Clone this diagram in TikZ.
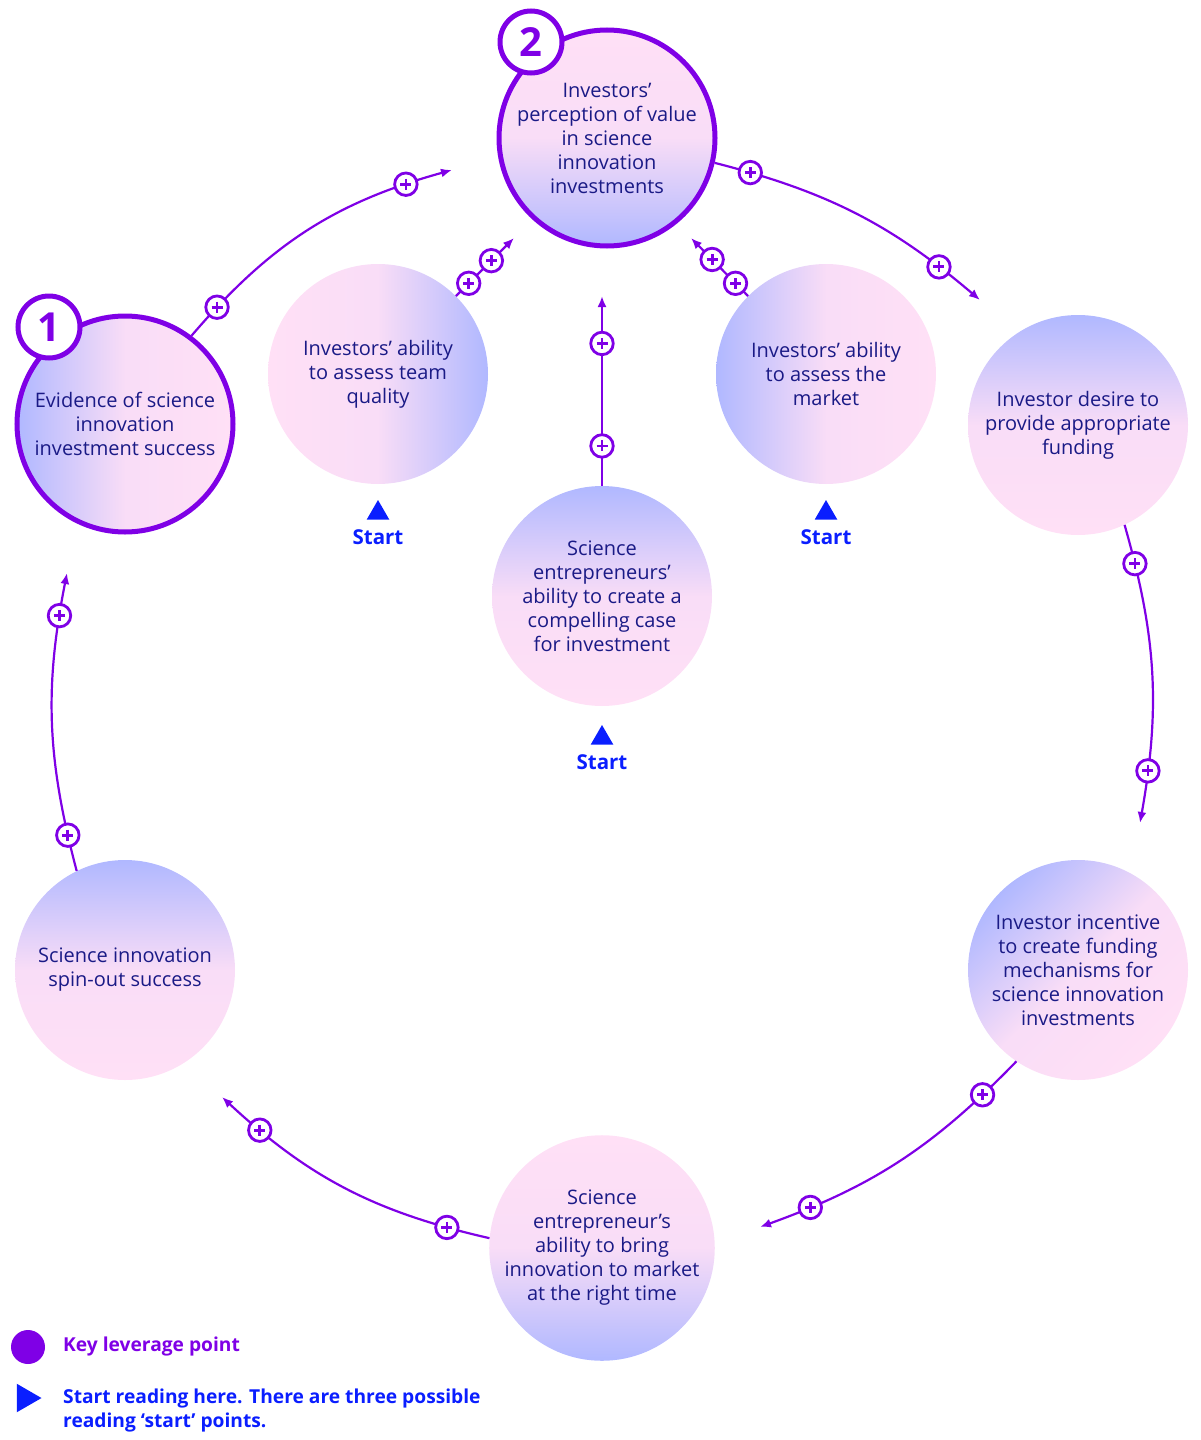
\documentclass[tikz,border=0pt]{standalone}
\usepackage{fontspec}
\setmainfont{Open Sans}
\usetikzlibrary{arrows.meta,positioning,shapes.geometric}

\definecolor{leverage}{HTML}{7F00E6}
\definecolor{navy}{HTML}{1A1A86}
\definecolor{startblue}{HTML}{0A1EFF}
\definecolor{pinkish}{HTML}{FFE0F6}
\definecolor{bluish}{HTML}{B0B8FF}
\colorlet{mixed}{pinkish!92!bluish}

\begin{document}
\begin{tikzpicture}[x=1pt, y=-1pt,
    factor/.style={circle, minimum size=220, inner sep=0, align=center, text=navy,
      font={\fontsize{20}{24}\selectfont}},
    keyfactor/.style={factor, minimum size=216, draw=leverage, line width=5},
    badge/.style={circle, minimum size=62, inner sep=0, draw=leverage, line width=5,
      fill=white, text=leverage, font={\fontsize{40}{40}\selectfont\bfseries}},
    plusmark/.style={circle, minimum size=22.5, inner sep=0, draw=leverage, line width=2.8,
      fill=white, path picture={\draw[-, leverage, line width=2.8]
        (path picture bounding box.center) +(-5.5,0) -- +(5.5,0) +(0,-5.5) -- +(0,5.5);}},
    link/.style={leverage, line width=2.2, -{Latex[length=11pt,width=9pt]}},
    starttri/.style={regular polygon, regular polygon sides=3, minimum size=26,
      inner sep=0, fill=startblue},
    starttext/.style={inner sep=0, text=startblue,
      font={\fontsize{20.5}{24}\selectfont\bfseries}},
    legendtext/.style={inner sep=0, align=left, anchor=west,
      font={\fontsize{19.2}{24}\selectfont\bfseries}}]
  \useasboundingbox (0,0) rectangle (1200,1440);

  % outer loop
  \node[keyfactor, left color=bluish, right color=pinkish, middle color=mixed]
    (evidence) at (125,424) {Evidence of science\\innovation\\investment success};
  \node[keyfactor, top color=pinkish, bottom color=bluish, middle color=mixed]
    (perception) at (607,138) {Investors’\\perception of value\\in science\\innovation\\investments};
  \node[factor, top color=bluish, bottom color=pinkish, middle color=mixed]
    (desire) at (1078,425) {Investor desire to\\provide appropriate\\funding};
  \node[factor, top color=bluish, bottom color=pinkish, middle color=mixed, shading angle=45]
    (incentive) at (1078,970) {Investor incentive\\to create funding\\mechanisms for\\science innovation\\investments};
  \node[factor, top color=pinkish, bottom color=bluish, middle color=mixed]
    (bring) at (602,1248) {Science\\entrepreneur's\\ability to bring\\innovation to market\\at the right time};
  \node[factor, top color=bluish, bottom color=pinkish, middle color=mixed]
    (spinout) at (125,970) {Science innovation\\spin-out success};

  % inner factors
  \node[factor, left color=pinkish, right color=bluish, middle color=mixed]
    (team) at (378,374) {Investors’ ability\\to assess team\\quality};
  \node[factor, left color=bluish, right color=pinkish, middle color=mixed]
    (market) at (826,374) {Investors’ ability\\to assess the\\market};
  \node[factor, top color=bluish, bottom color=pinkish, middle color=mixed]
    (compelling) at (602,596) {Science\\entrepreneurs’\\ability to create a\\compelling case\\for investment};

  \node[badge] (badge1) at (49,327) {1};
  \node[badge] (badge2) at (531,42) {2};

  \coordinate (evidenceend)   at (452,170);
  \coordinate (perceptionend) at (980,300);
  \coordinate (desireend)     at (1140,823);
  \coordinate (incentiveend)  at (760,1227);
  \coordinate (bringend)      at (222,1097);
  \coordinate (spinoutend)    at (67,573);
  \coordinate (teamend)       at (514,238);
  \coordinate (marketend)     at (691,238);
  \coordinate (compellingend) at (602,296);

  \draw[link] (evidence.53) to[bend left=17] node[plusmark, pos=.11] {} node[plusmark, pos=.86] {} (evidenceend);
  \draw[link] (perception.-13) to[bend left=13] node[plusmark, pos=.11] {} node[plusmark, pos=.84] {} (perceptionend);
  \draw[link] (desire.-65) to[bend left=13] node[plusmark, pos=.12] {} node[plusmark, pos=.84] {} (desireend);
  \draw[link] (incentive.236) to[bend left=13] node[plusmark, pos=.14] {} node[plusmark, pos=.84] {} (incentiveend);
  \draw[link] (bring.175) to[bend left=15] node[plusmark, pos=.13] {} node[plusmark, pos=.85] {} (bringend);
  \draw[link] (spinout.116) to[bend left=13] node[plusmark, pos=.11] {} node[plusmark, pos=.87] {} (spinoutend);
  \draw[link] (team.45) -- node[plusmark, pos=.22] {} node[plusmark, pos=.61] {} (teamend);
  \draw[link] (market.135) -- node[plusmark, pos=.22] {} node[plusmark, pos=.63] {} (marketend);
  \draw[link] (compelling.north) -- node[plusmark, pos=.21] {} node[plusmark, pos=.75] {} (compellingend);

  % start points
  \foreach \name/\x/\y in {teamstart/378/513, marketstart/826/513, casestart/602/738} {
    \node[starttri] (\name) at (\x,\y) {};
    \node[starttext, below=10pt of \name] {Start};
  }

  % legend
  \node[circle, minimum size=34, inner sep=0, fill=leverage] (keydot) at (28,1347) {};
  \node[legendtext, text=leverage] (keylabel) at (63,1346) {Key leverage point};
  \node[regular polygon, regular polygon sides=3, shape border rotate=-90, minimum size=33,
    inner sep=0, fill=startblue] (startarrow) at (25,1398) {};
  \node[legendtext, text=startblue] (startlabel) at (63,1410)
    {Start reading here. There are three possible\\reading ‘start’ points.};
\end{tikzpicture}
\end{document}
